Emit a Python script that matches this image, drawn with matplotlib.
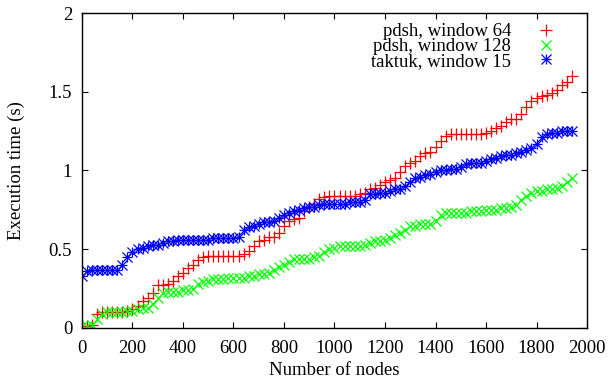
import matplotlib
matplotlib.use("Agg")
import matplotlib.pyplot as plt
from matplotlib.path import Path

plt.rcParams['font.family'] = ['Liberation Serif', 'DejaVu Serif']

# Number of nodes reached by each run
nodes = list(range(0, 1941, 20))

# Execution time (s), pdsh with window 64
pdsh_64 = [
    0.01, 0.01, 0.02, 0.09, 0.10, 0.10, 0.10, 0.10, 0.10, 0.11,
    0.12, 0.14, 0.17, 0.19, 0.22, 0.27, 0.27, 0.28, 0.30, 0.33,
    0.35, 0.38, 0.40, 0.43, 0.45, 0.46, 0.46, 0.46, 0.46, 0.46,
    0.46, 0.46, 0.47, 0.49, 0.52, 0.55, 0.56, 0.58, 0.58, 0.60,
    0.65, 0.68, 0.69, 0.70, 0.74, 0.77, 0.79, 0.82, 0.83, 0.84,
    0.84, 0.84, 0.84, 0.84, 0.84, 0.85, 0.86, 0.88, 0.89, 0.91,
    0.93, 0.94, 0.95, 0.99, 1.03, 1.05, 1.06, 1.09, 1.11, 1.12,
    1.15, 1.19, 1.22, 1.23, 1.23, 1.23, 1.23, 1.23, 1.23, 1.23,
    1.24, 1.25, 1.27, 1.28, 1.31, 1.33, 1.33, 1.36, 1.40, 1.44,
    1.46, 1.47, 1.48, 1.49, 1.51, 1.54, 1.56, 1.60,
]

# Execution time (s), pdsh with window 128
pdsh_128 = [
    0.01, 0.01, 0.02, 0.06, 0.09, 0.10, 0.10, 0.10, 0.10, 0.11,
    0.11, 0.12, 0.13, 0.13, 0.15, 0.19, 0.22, 0.23, 0.23, 0.23,
    0.24, 0.24, 0.25, 0.28, 0.29, 0.30, 0.31, 0.31, 0.31, 0.32,
    0.32, 0.32, 0.32, 0.33, 0.33, 0.34, 0.34, 0.35, 0.37, 0.39,
    0.40, 0.42, 0.44, 0.44, 0.44, 0.44, 0.45, 0.46, 0.48, 0.50,
    0.51, 0.52, 0.52, 0.52, 0.52, 0.52, 0.53, 0.54, 0.55, 0.55,
    0.56, 0.57, 0.59, 0.60, 0.62, 0.65, 0.65, 0.66, 0.66, 0.66,
    0.68, 0.72, 0.73, 0.73, 0.73, 0.73, 0.73, 0.74, 0.74, 0.74,
    0.75, 0.75, 0.75, 0.76, 0.76, 0.77, 0.78, 0.81, 0.84, 0.86,
    0.87, 0.87, 0.88, 0.88, 0.89, 0.90, 0.93, 0.95,
]

# Execution time (s), taktuk with window 15
taktuk_15 = [
    0.33, 0.36, 0.37, 0.37, 0.37, 0.37, 0.37, 0.37, 0.40, 0.45,
    0.48, 0.50, 0.51, 0.52, 0.53, 0.53, 0.54, 0.55, 0.55, 0.56,
    0.56, 0.56, 0.56, 0.56, 0.56, 0.56, 0.57, 0.57, 0.57, 0.57,
    0.57, 0.58, 0.62, 0.64, 0.65, 0.66, 0.67, 0.67, 0.68, 0.70,
    0.72, 0.73, 0.74, 0.75, 0.76, 0.77, 0.77, 0.78, 0.79, 0.79,
    0.79, 0.79, 0.79, 0.80, 0.80, 0.80, 0.81, 0.85, 0.85, 0.86,
    0.86, 0.87, 0.88, 0.88, 0.90, 0.93, 0.95, 0.96, 0.97, 0.98,
    0.99, 1.00, 1.00, 1.01, 1.01, 1.02, 1.04, 1.05, 1.05, 1.05,
    1.06, 1.07, 1.08, 1.09, 1.10, 1.10, 1.11, 1.12, 1.13, 1.14,
    1.17, 1.21, 1.23, 1.24, 1.24, 1.25, 1.25, 1.25,
]

series_labels = ["pdsh, window 64", "pdsh, window 128", "taktuk, window 15"]

x_ticks = list(range(0, 2001, 200))
x_tick_labels = [str(v) for v in x_ticks]
y_ticks = [0, 0.5, 1, 1.5, 2]
y_tick_labels = ["0", "0.5", "1", "1.5", "2"]

# gnuplot-style star: a plus laid over a cross
star = Path(
    [(-1, 0), (1, 0), (0, -1), (0, 1), (-1, -1), (1, 1), (-1, 1), (1, -1)],
    [Path.MOVETO, Path.LINETO] * 4,
)

fig = plt.figure(figsize=(6.09, 3.78), dpi=100)
ax = fig.add_axes([0.1346, 0.1323, 0.8293, 0.8333])

ms = 8.5
mew = 0.9
ax.plot(nodes, pdsh_64, linestyle='none', marker='+', color='#ff0000',
        markersize=ms, markeredgewidth=mew, label=series_labels[0])
ax.plot(nodes, pdsh_128, linestyle='none', marker='x', color='#00ff00',
        markersize=ms * 0.85, markeredgewidth=mew, label=series_labels[1])
ax.plot(nodes, taktuk_15, linestyle='none', marker=star, color='#0000ff',
        markersize=ms * 0.85, markeredgewidth=mew, label=series_labels[2])

ax.set_xlim(0, 2000)
ax.set_ylim(0, 2)
ax.set_xticks(x_ticks)
ax.set_xticklabels(x_tick_labels)
ax.set_yticks(y_ticks)
ax.set_yticklabels(y_tick_labels)

fs = 13.5
ax.tick_params(direction='in', top=True, right=True, length=4.3, width=0.8,
               labelsize=fs, color='black')
ax.tick_params(axis='x', pad=9)
ax.tick_params(axis='y', pad=7)
for sp in ax.spines.values():
    sp.set_linewidth(1.0)

ax.set_xlabel("Number of nodes", fontsize=fs, labelpad=3)
ax.set_ylabel("Execution time (s)", fontsize=fs, labelpad=17)

leg = ax.legend(loc='upper right', bbox_to_anchor=(0.956, 0.968),
                frameon=False, markerfirst=False, fontsize=fs,
                handlelength=2.0, handletextpad=0.86, labelspacing=-0.12,
                borderpad=0.0, borderaxespad=0.0)
for t in leg.get_texts():
    t.set_ha('right')

fig.savefig("out.png", dpi=100)
